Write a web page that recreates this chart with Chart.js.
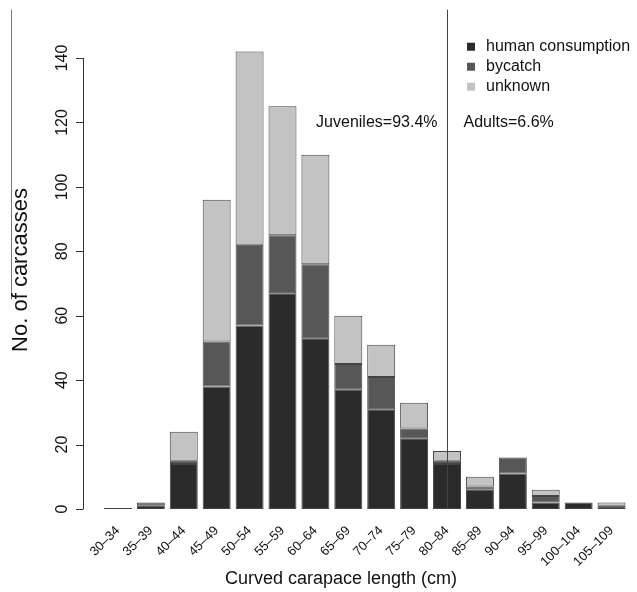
<!DOCTYPE html>
<html>
<head>
<meta charset="utf-8">
<script src="https://cdn.jsdelivr.net/npm/chart.js@4.4.1/dist/chart.umd.min.js"></script>
<style>
  html, body { margin: 0; padding: 0; background: #fff; }
  #wrap { width: 637px; height: 592px; }
</style>
</head>
<body>
<div id="wrap"><canvas id="chart"></canvas></div>
<script>
var sizeClasses = ['30–34', '35–39', '40–44', '45–49', '50–54', '55–59', '60–64', '65–69',
  '70–74', '75–79', '80–84', '85–89', '90–94', '95–99', '100–104', '105–109'];
var humanConsumption = [0.3, 1, 14, 38, 57, 67, 53, 37, 31, 22, 14, 6, 11, 2, 2, 0];
var bycatch = [0, 1, 1, 14, 25, 18, 23, 8, 10, 3, 1, 1, 5, 2, 0, 1];
var unknown = [0, 0, 9, 44, 60, 40, 34, 15, 10, 8, 3, 3, 0, 2, 0, 1];
var yTicks = [0, 20, 40, 60, 80, 100, 120, 140];
var adultClass = '80–84';
var juvenileText = 'Juveniles=93.4%';
var adultText = 'Adults=6.6%';

var FONT = "'Liberation Sans', Arial, Helvetica, sans-serif";
var colors = ['#2b2b2b', '#575757', '#c3c3c3'];

// axis line, titles, the juvenile/adult divider and the legend
var extras = {
  id: 'extras',
  afterDraw: function (chart) {
    var ctx = chart.ctx;
    var x = chart.scales.x, y = chart.scales.y;
    var ca = chart.chartArea;
    ctx.save();

    // R style y axis, set off from the bars
    var ax = 83;
    ctx.strokeStyle = '#333';
    ctx.lineWidth = 1;
    ctx.beginPath();
    ctx.moveTo(ax + 0.5, y.getPixelForValue(yTicks[0]));
    ctx.lineTo(ax + 0.5, y.getPixelForValue(yTicks[yTicks.length - 1]));
    yTicks.forEach(function (t) {
      var py = Math.round(y.getPixelForValue(t)) + 0.5;
      ctx.moveTo(ax + 0.5, py);
      ctx.lineTo(ax - 7, py);
    });
    ctx.stroke();

    // divider at the adult size class
    var lx = Math.round(x.getPixelForValue(sizeClasses.indexOf(adultClass))) + 0.5;
    ctx.strokeStyle = '#444';
    ctx.beginPath();
    ctx.moveTo(lx, y.getPixelForValue(155));
    ctx.lineTo(lx, y.getPixelForValue(0));
    ctx.stroke();

    // stray line at the left edge
    ctx.strokeStyle = '#777';
    ctx.beginPath();
    ctx.moveTo(11.5, y.getPixelForValue(155));
    ctx.lineTo(11.5, y.getPixelForValue(65));
    ctx.stroke();

    ctx.fillStyle = '#111';
    ctx.font = '16px ' + FONT;
    ctx.textBaseline = 'middle';
    var ty = y.getPixelForValue(120);
    ctx.textAlign = 'right';
    ctx.fillText(juvenileText, lx - 10, ty);
    ctx.textAlign = 'left';
    ctx.fillText(adultText, lx + 16, ty);

    // legend
    var lgX = ca.right - 161;
    chart.data.datasets.forEach(function (ds, i) {
      var ry = y.getPixelForValue(143.5) + i * 20;
      ctx.fillStyle = ds.backgroundColor;
      ctx.fillRect(lgX, ry - 4, 8, 8);
      ctx.fillStyle = '#111';
      ctx.font = '16px ' + FONT;
      ctx.textAlign = 'left';
      ctx.fillText(ds.label, lgX + 19, ry);
    });

    // axis titles
    ctx.font = '18px ' + FONT;
    ctx.textAlign = 'center';
    ctx.fillText('Curved carapace length (cm)', 341, 579);
    ctx.translate(21, 270);
    ctx.rotate(-Math.PI / 2);
    ctx.font = '22px ' + FONT;
    ctx.fillText('No. of carcasses', 0, 0);
    ctx.restore();
  }
};

function series(label, data, i) {
  return {
    label: label,
    data: data,
    backgroundColor: colors[i],
    borderColor: '#444',
    borderWidth: 1,
    borderSkipped: false,
    barPercentage: 0.85,
    categoryPercentage: 1.0,
    clip: false
  };
}

new Chart(document.getElementById('chart'), {
  type: 'bar',
  data: {
    labels: sizeClasses,
    datasets: [
      series('human consumption', humanConsumption, 0),
      series('bycatch', bycatch, 1),
      series('unknown', unknown, 2)
    ]
  },
  options: {
    responsive: true,
    maintainAspectRatio: false,
    animation: false,
    layout: { padding: { top: 58, right: 9, bottom: 0, left: 0 } },
    plugins: {
      legend: { display: false },
      tooltip: { enabled: false }
    },
    scales: {
      x: {
        stacked: true,
        grid: { display: false },
        border: { display: false },
        ticks: {
          color: '#111',
          font: { family: FONT, size: 13 },
          minRotation: 45,
          maxRotation: 45,
          padding: 6,
          autoSkip: false
        },
        afterFit: function (s) { s.height = 83; }
      },
      y: {
        stacked: true,
        min: 0,
        max: 140,
        grid: { display: false },
        border: { display: false },
        ticks: {
          stepSize: 20,
          color: '#111',
          font: { family: FONT, size: 16 },
          minRotation: 90,
          maxRotation: 90,
          crossAlign: 'center',
          padding: 18
        },
        afterFit: function (s) { s.width = 101.5; }
      }
    }
  },
  plugins: [extras]
});
</script>
</body>
</html>
